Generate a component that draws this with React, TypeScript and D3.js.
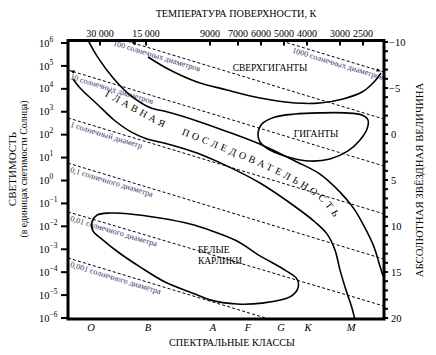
import React from 'react';
import * as d3 from 'd3';

type P = [number, number];

// ---- axes data ----
const logLumTicks = [6, 5, 4, 3, 2, 1, 0, -1, -2, -3, -4, -5, -6];
const magTicks = d3.range(-10, 21, 1);
const magLabels = [-10, -5, 0, 5, 10, 15, 20];
const tempLabels = ['30 000', '15 000', '9000', '7000', '6000', '5000', '4000', '3000', '2500'];
const tempPos = [10.13, 24.68, 44.94, 53.8, 61.08, 68.35, 75.63, 86.08, 93.35];
const spectralClasses = ['O', 'B', 'A', 'F', 'G', 'K', 'M'];
const spectralPos = [7.28, 25.32, 45.89, 56.96, 67.41, 75.95, 89.56];

// ---- regions (x: spectral position 0..100, y: log10 L/Lsun) ----
const msUpper: P[] = [
  [6.33, 6.13], [9.18, 5.43], [14.56, 4.43], [19.94, 3.69], [26.27, 3.16], [30.38, 3.03],
  [40.82, 2.6], [51.58, 2.07], [62.03, 1.51], [72.47, 0.81], [79.75, 0.28], [86.39, -0.55],
  [90.51, -1.24], [93.99, -2.07], [96.84, -2.9], [98.42, -3.6], [99.68, -4.17],
];
const msLower: P[] = [
  [1.58, 4.43], [3.8, 4.04], [9.18, 3.34], [14.56, 2.64], [19.94, 2.12], [25.0, 1.81],
  [30.38, 1.64], [40.82, 1.2], [51.58, 0.55], [60.76, -0.11], [72.47, -1.2], [78.16, -1.81],
  [81.96, -2.33], [84.49, -3.03], [86.08, -3.91], [87.97, -4.78], [89.87, -5.56], [90.82, -6.09],
];
const supergiantEdge: P[] = [
  [25.32, 5.39], [32.28, 4.82], [40.82, 4.3], [50.32, 3.95], [60.76, 3.6], [71.84, 3.38],
  [79.75, 3.38], [87.03, 3.56], [93.04, 3.86], [96.84, 4.3], [99.05, 4.69],
];
const giantsRegion: P[] = [
  [60.13, 2.03], [61.39, 2.47], [65.51, 2.77], [71.84, 2.9], [79.75, 2.95], [87.66, 2.95],
  [93.04, 2.86], [94.94, 2.64], [94.62, 2.25], [92.41, 1.77], [88.61, 1.29], [82.91, 0.94],
  [76.58, 0.85], [69.62, 1.03], [63.92, 1.33], [60.76, 1.68],
];
const whiteDwarfRegion: P[] = [
  [7.59, -1.81], [9.18, -1.51], [13.29, -1.42], [19.62, -1.46], [29.11, -1.64], [38.61, -1.9],
  [45.57, -2.2], [53.48, -2.64], [60.76, -3.29], [68.67, -3.91], [72.47, -4.3], [72.78, -4.69],
  [70.25, -5.08], [61.39, -5.35], [53.48, -5.39], [44.94, -5.21], [40.19, -4.95], [30.7, -4.43],
  [22.78, -3.77], [15.82, -3.12], [11.08, -2.6], [7.91, -2.2],
];

// ---- constant-radius lines ----
const radiusLabels = [
  '1000 солнечных диаметров', '100 солнечных диаметров', '10 солнечных диаметров',
  '1 солнечный диаметр', '0,1 солнечного диаметра', '0,01 солнечного диаметра',
  '0,001 солнечного диаметра',
];
const radiusLeft = [8.91, 6.86, 4.82, 2.73, 0.76, -1.37, -3.38];
const radiusRight = [4.73, 2.68, 0.63, -1.46, -3.43, -5.48, -7.57];
const radiusLabelX = [71.52, 14.87, 1.27, 1.27, 1.27, 1.27, 1.27];

// ---- region labels ----
const msLabelPath: P[] = [
  [11.6, 3.7], [20.25, 3.04], [29.11, 2.38], [37.34, 1.93], [48.73, 1.3], [63.29, 0.45],
  [72.78, -0.22], [78.48, -0.72], [82.59, -1.3], [85.4, -1.95],
];

const FONT = "'Liberation Serif', 'Times New Roman', serif";
const LBL = '#2e3a66';

export default function App() {
  const x = d3.scaleLinear().domain([0, 100]).range([68, 384]);
  const y = d3.scaleLinear().domain([6, -6]).range([43, 318]);
  const yMag = d3.scaleLinear().domain([-10, 20]).range([42, 318]);

  const open = d3.line<P>().x(d => x(d[0])).y(d => y(d[1])).curve(d3.curveCatmullRom.alpha(0.5));
  const closed = d3.line<P>().x(d => x(d[0])).y(d => y(d[1])).curve(d3.curveCatmullRomClosed.alpha(0.5));

  const fx0 = x(0), fx1 = x(100), fy0 = 40.5, fy1 = 319;

  const lines = radiusLeft.map((l, i) => {
    const r = radiusRight[i];
    const p0: P = [x(0), y(l)];
    const p1: P = [x(100), y(r)];
    const ang = (Math.atan2(p1[1] - p0[1], p1[0] - p0[0]) * 180) / Math.PI;
    const lx = radiusLabelX[i];
    const ly = l + ((r - l) * lx) / 100;
    return { p0, p1, ang, lp: [x(lx), y(ly)] as P, label: radiusLabels[i] };
  });

  // arrowheads where lines meet the frame
  const arrowFor = (i: number, atStart: boolean) => {
    const { p0, p1 } = lines[i];
    const dx = p1[0] - p0[0], dy = p1[1] - p0[1];
    let t: number;
    if (atStart) {
      t = Math.max((fx0 + 2 - p0[0]) / dx, (fy0 + 2 - p0[1]) / dy);
    } else {
      t = Math.min((fx1 - 3 - p0[0]) / dx, (fy1 - 2 - p0[1]) / dy);
    }
    const px = p0[0] + dx * t, py = p0[1] + dy * t;
    const len = Math.hypot(dx, dy);
    let ux = dx / len, uy = dy / len;
    if (atStart) { ux = -ux; uy = -uy; }
    const s = 4.5, w = 1.8;
    const bx = px - ux * s, by = py - uy * s;
    return `M${px},${py}L${bx - uy * w},${by + ux * w}L${bx + uy * w},${by - ux * w}Z`;
  };
  const arrows = [arrowFor(1, true), arrowFor(2, true), arrowFor(0, false)];

  return (
    <svg width={436} height={355} style={{ position: 'absolute', left: 0, top: 0, background: '#fff' }}
      fontFamily={FONT}>
      <defs>
        <clipPath id="plotClip">
          <rect x={fx0} y={fy0} width={fx1 - fx0} height={fy1 - fy0} />
        </clipPath>
        <path id="msPath" d={open(msLabelPath) || ''} fill="none" />
      </defs>

      {/* constant radius lines */}
      <g clipPath="url(#plotClip)">
        {lines.map((ln, i) => (
          <line key={i} x1={ln.p0[0]} y1={ln.p0[1]} x2={ln.p1[0]} y2={ln.p1[1]}
            stroke="#000" strokeWidth={1} strokeDasharray="3,2.2" />
        ))}
        {arrows.map((d, i) => <path key={i} d={d} fill="#000" />)}
      </g>
      {lines.map((ln, i) => (
        <text key={i} transform={`translate(${ln.lp[0]},${ln.lp[1]}) rotate(${ln.ang})`} y={8}
          fontSize={8.2} fill={LBL}>{ln.label}</text>
      ))}

      {/* regions */}
      <g clipPath="url(#plotClip)" fill="none" stroke="#000" strokeWidth={1.6}>
        <path d={open(msUpper) || ''} />
        <path d={open(msLower) || ''} />
        <path d={open(supergiantEdge) || ''} />
        <path d={closed(giantsRegion) || ''} />
        <path d={closed(whiteDwarfRegion) || ''} />
      </g>

      {/* region labels */}
      <text x={x(63.9)} y={y(4.8)} fontSize={9.5} textAnchor="middle">СВЕРХГИГАНТЫ</text>
      <text x={x(78.5)} y={y(1.92)} fontSize={9.5} textAnchor="middle">ГИГАНТЫ</text>
      <text x={x(41.1)} y={y(-3.16)} fontSize={9.5}>БЕЛЫЕ</text>
      <text x={x(41.1)} y={y(-3.64)} fontSize={9.5}>КАРЛИКИ</text>
      <text fontSize={10} letterSpacing={3.3}>
        <textPath href="#msPath" startOffset={0}>ГЛАВНАЯ</textPath>
      </text>
      <text fontSize={10} letterSpacing={3.4}>
        <textPath href="#msPath" startOffset={86}>ПОСЛЕДОВАТЕЛЬНОСТЬ</textPath>
      </text>

      {/* frame */}
      <rect x={fx0} y={fy0} width={fx1 - fx0} height={fy1 - fy0} fill="none" stroke="#000" strokeWidth={3} />

      {/* left axis */}
      {logLumTicks.map(v => (
        <g key={v}>
          <line x1={fx0 - 7} x2={fx0} y1={y(v)} y2={y(v)} stroke="#000" strokeWidth={2} />
          <text x={39} y={y(v) + 3.6} fontSize={10.5}>
            10<tspan fontSize={7.5} dy={-5}>{v < 0 ? `\u2212${-v}` : `${v}`}</tspan>
          </text>
        </g>
      ))}
      <text transform={`translate(16,169) rotate(-90)`} textAnchor="middle" fontSize={11}>СВЕТИМОСТЬ</text>
      <text transform={`translate(27,169) rotate(-90)`} textAnchor="middle" fontSize={9.8}>(в единицах светимости Солнца)</text>

      {/* right axis */}
      {magTicks.map(m => (
        <line key={m} x1={fx1} x2={fx1 + 4} y1={yMag(m)} y2={yMag(m)} stroke="#000" strokeWidth={2} />
      ))}
      {magLabels.map(m => (
        <text key={m} x={m < 0 ? 389 : 391} y={yMag(m) + 3.6} fontSize={10.5}>
          {m < 0 ? `\u2212${-m}` : `${m}`}
        </text>
      ))}
      <text transform={`translate(423,180) rotate(-90)`} textAnchor="middle" fontSize={10.8}>
        АБСОЛЮТНАЯ ЗВЁЗДНАЯ ВЕЛИЧИНА
      </text>

      {/* top axis */}
      {tempPos.map((p, i) => (
        <g key={i}>
          <line x1={x(p)} x2={x(p)} y1={fy0} y2={fy0 + 5} stroke="#000" strokeWidth={2} />
          <text x={x(p)} y={36.5} fontSize={10} textAnchor="middle">{tempLabels[i]}</text>
        </g>
      ))}
      <text x={236} y={17} fontSize={10.2} textAnchor="middle">ТЕМПЕРАТУРА ПОВЕРХНОСТИ, К</text>

      {/* bottom axis */}
      {spectralPos.map((p, i) => (
        <text key={i} x={x(p)} y={330.5} fontSize={10.5} fontStyle="italic" textAnchor="middle">
          {spectralClasses[i]}
        </text>
      ))}
      <text x={232} y={345.5} fontSize={10.2} textAnchor="middle">СПЕКТРАЛЬНЫЕ КЛАССЫ</text>
    </svg>
  );
}
